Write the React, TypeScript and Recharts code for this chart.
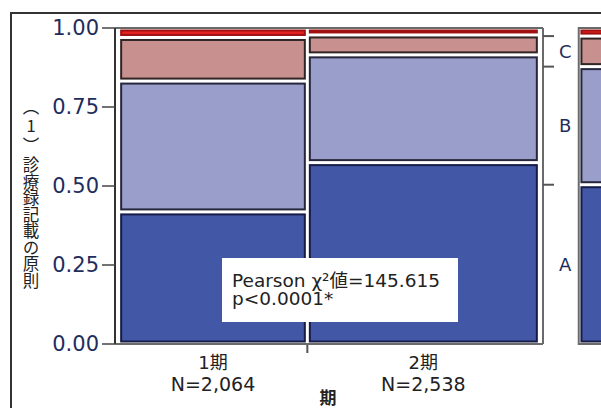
import React from "react";
import { ComposedChart, XAxis, YAxis, ReferenceArea, ReferenceLine } from "recharts";

const periods = ["1期", "2期"];
const counts = [2064, 2538];
const levels = ["A", "B", "C", "D"];
// share of each level inside each period
const shareA = [0.418, 0.574];
const shareB = [0.414, 0.341];
const shareC = [0.138, 0.063];
const shareD = [0.03, 0.022];
const yTicks = [0, 0.25, 0.5, 0.75, 1];
const yTitleHead = "（1）";
const yTitleBody = "診療録記載の原則";
const xTitle = "期";
const chiText = "Pearson χ²値=145.615";
const pText = "p<0.0001*";

const FONT = "'DejaVu Sans', 'Noto Sans CJK JP', sans-serif";
const fills = ["#4257a6", "#9a9ecb", "#c99090", "#e42020"];
const strokes = ["#161b48", "#26263c", "#302424", "#a01010"];
const FRAME = "#6a6a6a";

const shares = [shareA, shareB, shareC, shareD];
const total = counts.reduce((a, b) => a + b, 0);
const xStart = counts.map((_, i) => counts.slice(0, i).reduce((a, b) => a + b, 0));
const centres = counts.map((n, i) => xStart[i] + n / 2);

type CellT = { x1: number; x2: number; y1: number; y2: number; k: number };
const cells: CellT[] = [];
counts.forEach((n, i) => {
  let y = 0;
  shares.forEach((s, k) => {
    cells.push({ x1: xStart[i], x2: xStart[i] + n, y1: y, y2: y + s[i], k });
    y += s[i];
  });
});

// marginal (all periods together)
const marginal = shares.map((s) => s.reduce((acc, v, i) => acc + v * counts[i], 0) / total);
const cum: number[] = [];
marginal.reduce((acc, v) => {
  cum.push(acc + v);
  return acc + v;
}, 0);
const bounds = cum.slice(0, 3);
const mids = [0, 1, 2].map((k) => (k === 0 ? cum[0] / 2 : (cum[k - 1] + cum[k]) / 2));

// the marginal bar sits to the right of the main plot
const PAD = 40;
const M0 = 5035;
const M1 = M0 + 800;
const margCells: CellT[] = [];
{
  let y = 0;
  marginal.forEach((v, k) => {
    margCells.push({ x1: M0, x2: M1, y1: y, y2: y + v, k });
    y += v;
  });
}

const inset = (k: number) => (props: any) => {
  const { x, y, width, height } = props;
  return (
    <rect
      x={x + 2.5}
      y={y + 2.5}
      width={Math.max(width - 5, 0)}
      height={Math.max(height - 5, 0)}
      fill={fills[k]}
      stroke={strokes[k]}
      strokeWidth={2}
    />
  );
};

function XTick(props: any) {
  const { x, y, payload } = props;
  const i = centres.indexOf(payload.value);
  if (i < 0) {
    return <line x1={x} x2={x} y1={y + 1} y2={y + 9} stroke="#555" strokeWidth={2} />;
  }
  return (
    <g fontFamily={FONT} fill="#222" textAnchor="middle">
      <text x={x} y={y + 25} fontSize={18}>{periods[i]}</text>
      <text x={x} y={y + 47} fontSize={19}>N={counts[i].toLocaleString("en-US")}</text>
    </g>
  );
}

function RTick(props: any) {
  const { x, y, payload } = props;
  const b = bounds.indexOf(payload.value);
  if (b >= 0) {
    return <line x1={x} x2={x + 11} y1={y} y2={y} stroke="#555" strokeWidth={2} />;
  }
  const m = mids.indexOf(payload.value);
  return (
    <text x={x + 16} y={y} dy="0.36em" fontSize={18} fontFamily={FONT} fill="#1f2d5c">
      {levels[m]}
    </text>
  );
}

export default function App() {
  return (
    <div
      style={{
        position: "absolute",
        left: 0,
        top: 0,
        width: 601,
        height: 408,
        overflow: "hidden",
        background: "#fff",
        fontFamily: FONT,
      }}
    >
      <div
        style={{
          position: "absolute",
          left: 10,
          top: 12,
          width: 800,
          height: 600,
          border: "2px solid #333",
        }}
      />
      <div style={{ position: "absolute", left: 0, top: 0 }}>
        <ComposedChart
          width={601}
          height={408}
          data={cells}
          margin={{ top: 28, right: 0, bottom: 0, left: 0 }}
        >
          <XAxis
            dataKey="x1"
            type="number"
            domain={[-PAD, total + PAD]}
            ticks={[centres[0], xStart[1], centres[1]]}
            interval={0}
            height={64}
            tickSize={0}
            tickMargin={0}
            tick={<XTick />}
            axisLine={{ stroke: FRAME, strokeWidth: 2 }}
            allowDataOverflow
          />
          <YAxis
            yAxisId="l"
            dataKey="y2"
            type="number"
            domain={[0, 1]}
            allowDataOverflow
            ticks={yTicks}
            interval={0}
            width={115}
            tickSize={13}
            tickMargin={3}
            tickFormatter={(v: number) => v.toFixed(2)}
            tick={{ fontSize: 21, fill: "#1f2d5c", fontFamily: FONT }}
            tickLine={{ stroke: "#444", strokeWidth: 1.5 }}
            axisLine={{ stroke: "#333", strokeWidth: 2 }}
          />
          <YAxis
            yAxisId="r"
            dataKey="y2"
            orientation="right"
            type="number"
            domain={[0, 1]}
            allowDataOverflow
            ticks={[...bounds, ...mids]}
            interval={0}
            width={58}
            tickSize={0}
            tickMargin={0}
            tick={<RTick />}
            axisLine={{ stroke: FRAME, strokeWidth: 2 }}
          />
          <ReferenceLine yAxisId="l" y={1} stroke={FRAME} strokeWidth={2} ifOverflow="visible" />
          {cells.map((c, i) => (
            <ReferenceArea
              key={"c" + i}
              yAxisId="l"
              x1={c.x1}
              x2={c.x2}
              y1={c.y1}
              y2={c.y2}
              ifOverflow="visible"
              shape={inset(c.k)}
            />
          ))}
          <ReferenceArea
            yAxisId="l"
            x1={M0 - 2}
            x2={M1}
            y1={0}
            y2={1}
            ifOverflow="visible"
            fill="none"
            stroke={FRAME}
            strokeWidth={2}
            fillOpacity={0}
          />
          {margCells.map((c, i) => (
            <ReferenceArea
              key={"m" + i}
              yAxisId="l"
              x1={c.x1}
              x2={c.x2}
              y1={c.y1}
              y2={c.y2}
              ifOverflow="visible"
              shape={inset(c.k)}
            />
          ))}
        </ComposedChart>
      </div>
      <div
        style={{
          position: "absolute",
          left: 22,
          top: 98,
          writingMode: "vertical-rl",
          textOrientation: "upright",
          fontFamily: "'Noto Sans CJK JP', sans-serif",
          fontSize: 16.5,
          lineHeight: "17px",
          color: "#222",
        }}
      >
        <span style={{ letterSpacing: 3 }}>{yTitleHead}</span>
        {yTitleBody}
      </div>
      <svg
        width={601}
        height={408}
        style={{ position: "absolute", left: 0, top: 0, pointerEvents: "none" }}
      >
        <rect x={222} y={258} width={236} height={64} fill="#fff" />
        <text x={232} y={287} fontSize={18.5} fontFamily={FONT} fill="#222">
          {chiText}
        </text>
        <text x={232} y={305} fontSize={18.5} fontFamily={FONT} fill="#222">
          {pText}
        </text>
        <text
          x={328}
          y={404}
          fontSize={17}
          fontWeight="bold"
          textAnchor="middle"
          fontFamily={FONT}
          fill="#222"
        >
          {xTitle}
        </text>
      </svg>
    </div>
  );
}
